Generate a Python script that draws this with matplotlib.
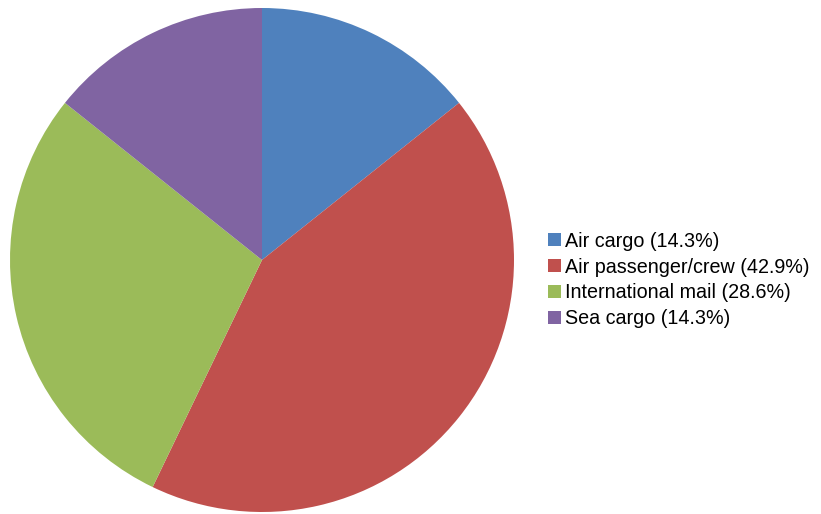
import matplotlib.pyplot as plt

plt.rcParams['font.family'] = ['Liberation Sans', 'DejaVu Sans']

labels = ['Air cargo', 'Air passenger/crew', 'International mail', 'Sea cargo']
shares = [14.3, 42.9, 28.6, 14.3]
colors = ['#4F81BD', '#C0504D', '#9BBB59', '#8064A2']

fig = plt.figure(figsize=(8.21, 5.14), dpi=100)
ax = fig.add_axes([10 / 821, 2 / 514, 504 / 821, 504 / 514])

wedges, _ = ax.pie(shares, colors=colors, startangle=90, counterclock=False,
                   radius=1.0, wedgeprops=dict(linewidth=0))
ax.set_xlim(-1, 1)
ax.set_ylim(-1, 1)
ax.set_aspect('equal')
ax.axis('off')

leg_labels = ['%s (%.1f%%)' % (l, s) for l, s in zip(labels, shares)]
fig.legend(wedges, leg_labels, loc='center left',
           bbox_to_anchor=(548 / 821, 1 - 280 / 514), frameon=False,
           fontsize=14.2, handlelength=0.65, handleheight=0.65,
           handletextpad=0.2, labelspacing=0.35, borderpad=0,
           borderaxespad=0)

fig.savefig('out.png', dpi=100)
